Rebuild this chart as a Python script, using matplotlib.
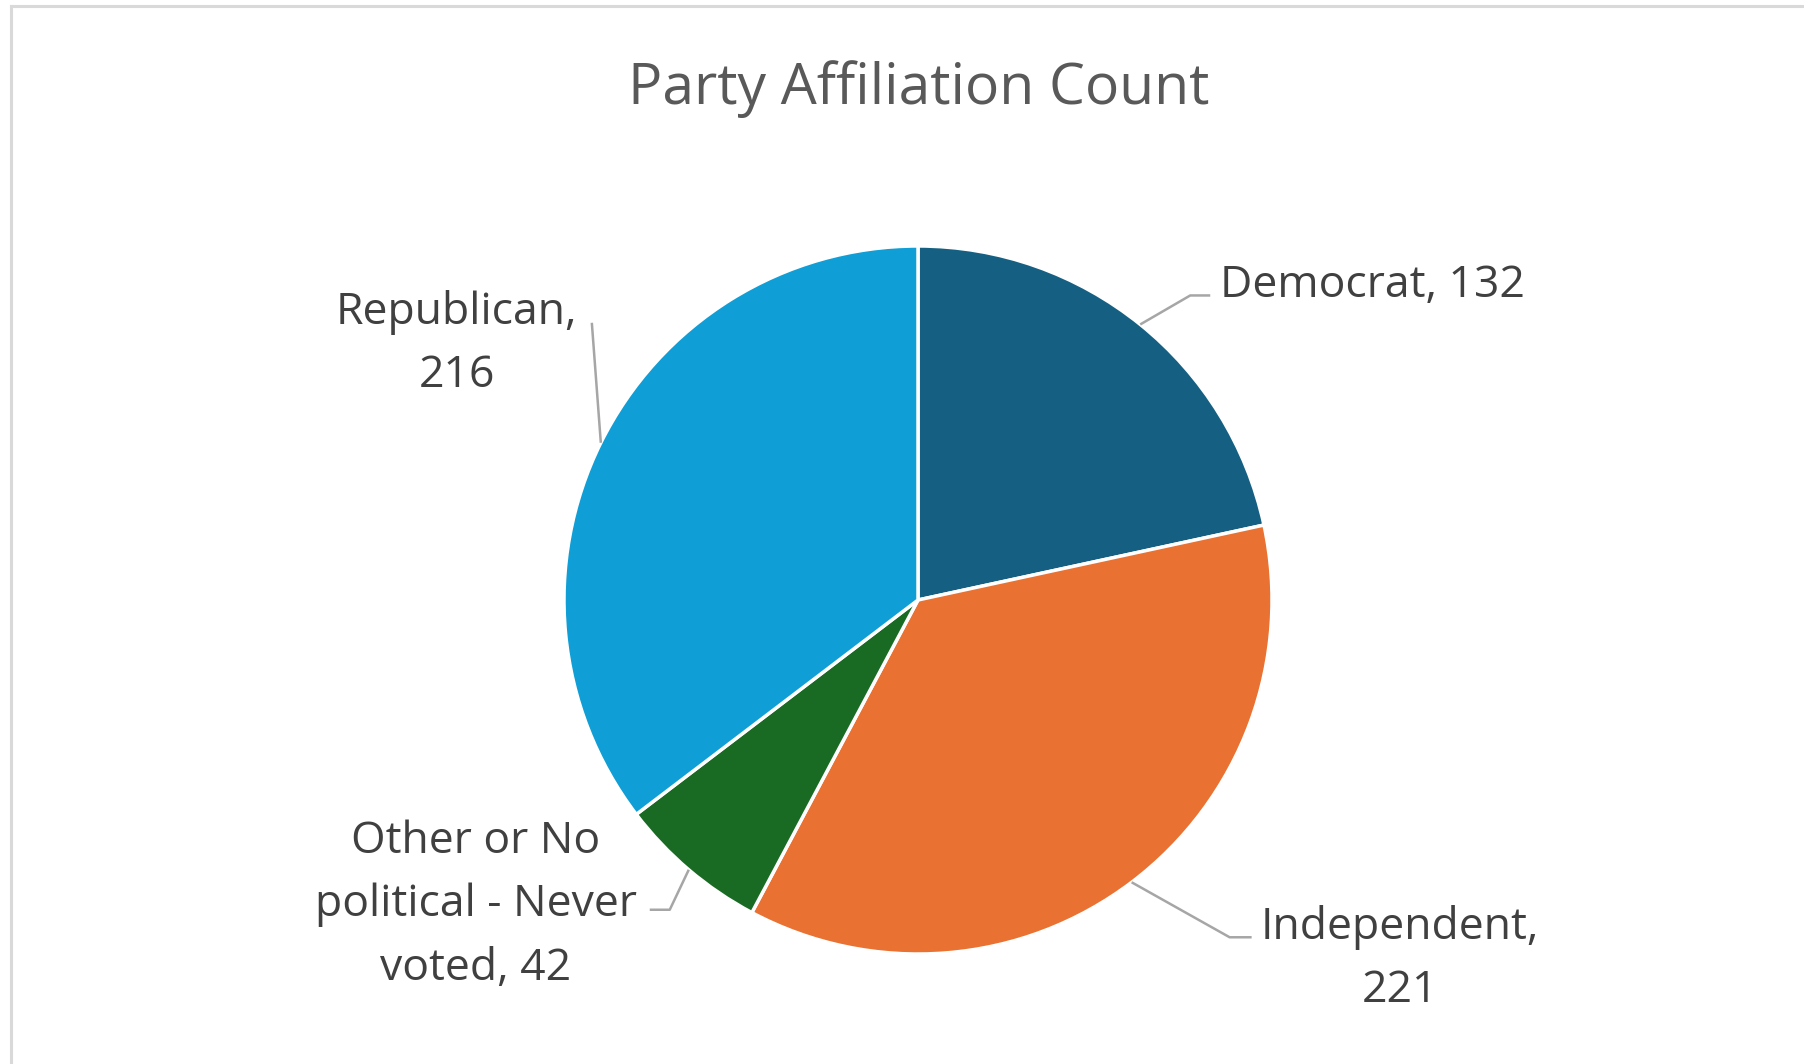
import numpy as np
import matplotlib
matplotlib.use("Agg")
import matplotlib.pyplot as plt

# ---- data ----
categories = ["Democrat", "Independent", "Other or No\npolitical - Never\nvoted", "Republican"]
counts = [132, 221, 42, 216]
colors = ["#156082", "#E97132", "#196B24", "#0F9ED5"]
title = "Party Affiliation Count"

W, H = 1804, 1064
plt.rcParams['font.family'] = ['Open Sans', 'DejaVu Sans']

fig = plt.figure(figsize=(W / 100, H / 100), dpi=100)
ax = fig.add_axes([0, 0, 1, 1])

cx, cy, R = 918, H - 600, 354
wedges, _ = ax.pie(counts, colors=colors, startangle=90, counterclock=False,
                   center=(cx, cy), radius=R,
                   wedgeprops=dict(edgecolor="white", linewidth=2.5))
ax.set_xlim(0, W)
ax.set_ylim(0, H)
ax.set_aspect('equal')
ax.axis('off')

# label layout: leader points relative to anchor, text pos (last line baseline) rel anchor
layout = [
    dict(pts=[(0, 0), (50, 29), (70, 29)], txt=(80, 27), ha='left'),
    dict(pts=[(0, 0), (98, -55), (120, -55)], txt=(268, -120), ha='center'),
    dict(pts=[(0, 0), (-19, -40), (-39, -40)], txt=(-213, -110), ha='center'),
    dict(pts=[(0, 0), (-9, 120)], txt=(-144, 56), ha='center'),
]

line_col = "#A6A6A6"
for w, cat, n, lay in zip(wedges, categories, counts, layout):
    mid = np.deg2rad((w.theta1 + w.theta2) / 2)
    ax_, ay_ = cx + R * np.cos(mid), cy + R * np.sin(mid)
    xs = [ax_ + p[0] for p in lay['pts']]
    ys = [ay_ + p[1] for p in lay['pts']]
    ax.plot(xs, ys, color=line_col, lw=1.8, solid_capstyle='butt', zorder=3)
    if cat == "Democrat":
        label = f"{cat}, {n}"
    else:
        label = f"{cat},\n{n}" if "\n" not in cat else f"{cat}, {n}"
    ax.text(ax_ + lay['txt'][0], ay_ + lay['txt'][1], label, ha=lay['ha'],
            va='baseline', multialignment='center', fontsize=32,
            color="#404040", linespacing=1.56)

ax.text(cx + 1, H - 104, title, ha='center', va='baseline', fontsize=41,
        color="#595959")

# chart border (top and left visible)
ax.plot([10.5, W], [H - 5.5, H - 5.5], color="#D9D9D9", lw=2.2, clip_on=False)
ax.plot([10.5, 10.5], [0, H - 5.5], color="#D9D9D9", lw=2.2, clip_on=False)

fig.savefig("out.png", dpi=100, facecolor="white")
